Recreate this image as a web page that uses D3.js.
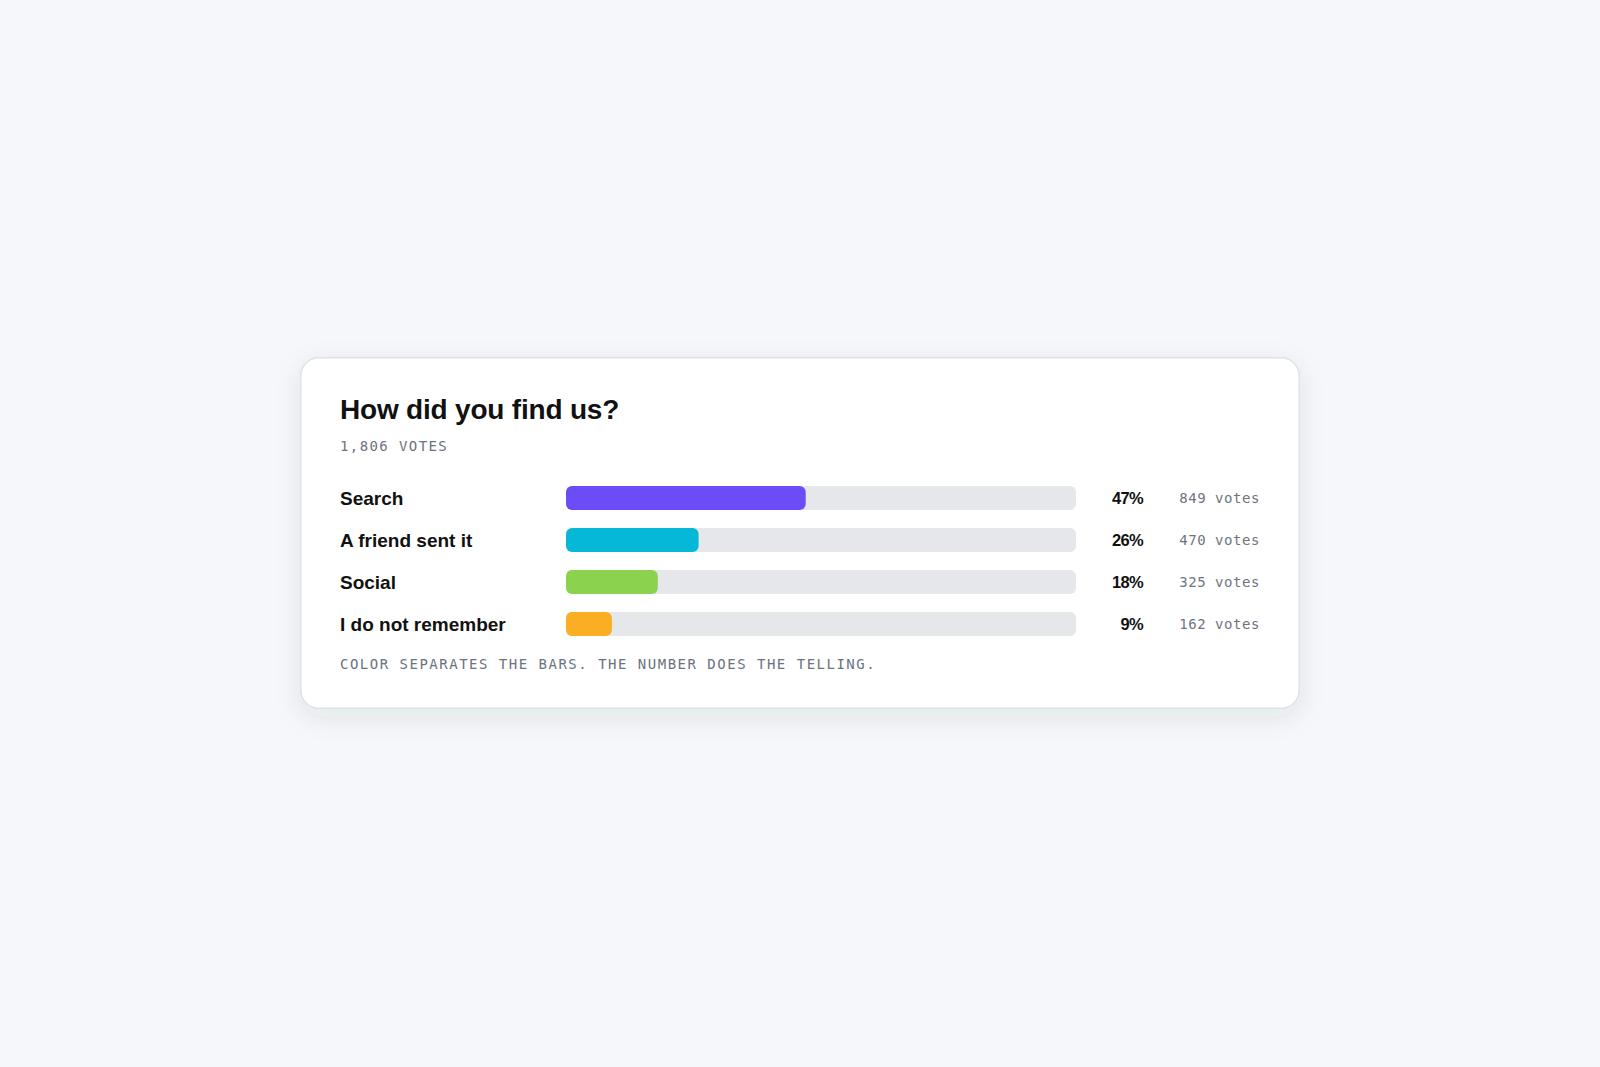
<!DOCTYPE html>
<html>
<head>
<meta charset="utf-8">
<script src="https://cdn.jsdelivr.net/npm/d3@7"></script>
<style>
  html, body { margin: 0; padding: 0; background: #f6f7fa; }
  svg { display: block; }
</style>
</head>
<body>
<svg id="chart"></svg>
<script>
var categories = ["Search", "A friend sent it", "Social", "I do not remember"];
var votes = [849, 470, 325, 162];
var percents = [47, 26, 18, 9];
var colors = ["#6b4cf7", "#06b8d7", "#8bd34f", "#fbae24"];
var totalVotes = 1806;
var title = "How did you find us?";
var note = "Color separates the bars. The number does the telling.";

var width = 1600;
var height = 1067;
var svg = d3.select("#chart")
    .attr("width", width)
    .attr("height", height);

var defs = svg.append("defs");
var shadow = defs.append("filter")
    .attr("id", "shadow")
    .attr("x", "-10%").attr("y", "-20%")
    .attr("width", "120%").attr("height", "150%");
shadow.append("feDropShadow")
    .attr("dx", 0).attr("dy", 8)
    .attr("stdDeviation", 13)
    .attr("flood-color", "#1f2937")
    .attr("flood-opacity", 0.09);

// card
var card = {x: 300, y: 357, w: 1000, h: 352};
svg.append("rect")
    .attr("x", card.x + 0.75).attr("y", card.y + 0.75)
    .attr("width", card.w - 1.5).attr("height", card.h - 1.5)
    .attr("rx", 18)
    .attr("fill", "#ffffff")
    .attr("stroke", "#dfe1e6")
    .attr("stroke-width", 1.6)
    .attr("filter", "url(#shadow)");

var left = card.x + 40;
var right = card.x + card.w - 40;
var sans = "'Liberation Sans', Arial, Helvetica, sans-serif";
var mono = "'DejaVu Sans Mono', monospace";

svg.append("text")
    .attr("x", left).attr("y", 419)
    .style("font-family", sans)
    .style("font-weight", "bold")
    .style("font-size", "28px")
    .style("letter-spacing", "-0.2px")
    .attr("fill", "#111111")
    .text(title);

svg.append("text")
    .attr("x", left).attr("y", 451)
    .style("font-family", mono)
    .style("font-size", "14px")
    .style("letter-spacing", "1.4px")
    .attr("fill", "#6b7280")
    .text(d3.format(",")(totalVotes) + " VOTES");

// scales
var x = d3.scaleLinear()
    .domain([0, 100])
    .range([566, 1076]);
var y = d3.scaleBand()
    .domain(categories)
    .range([477, 477 + 42 * categories.length]);

var barH = 24;
var rows = svg.append("g").selectAll("g")
    .data(categories).enter()
    .append("g");

rows.append("text")
    .attr("x", left)
    .attr("y", function (d) { return y(d) + y.bandwidth() / 2 + 7; })
    .style("font-family", sans)
    .style("font-weight", "bold")
    .style("font-size", "19px")
    .attr("fill", "#111111")
    .text(function (d) { return d; });

rows.append("rect")
    .attr("x", x(0))
    .attr("y", function (d) { return y(d) + y.bandwidth() / 2 - barH / 2; })
    .attr("width", x(100) - x(0))
    .attr("height", barH)
    .attr("rx", 6)
    .attr("fill", "#e5e7eb");

rows.append("rect")
    .attr("x", x(0))
    .attr("y", function (d) { return y(d) + y.bandwidth() / 2 - barH / 2; })
    .attr("width", function (d, i) { return x(percents[i]) - x(0); })
    .attr("height", barH)
    .attr("rx", 6)
    .attr("fill", function (d, i) { return colors[i]; });

rows.append("text")
    .attr("x", 1143)
    .attr("y", function (d) { return y(d) + y.bandwidth() / 2 + 6; })
    .attr("text-anchor", "end")
    .style("font-family", sans)
    .style("font-weight", "bold")
    .style("font-size", "16.5px")
    .style("letter-spacing", "-0.7px")
    .attr("fill", "#111111")
    .text(function (d, i) { return percents[i] + "%"; });

rows.append("text")
    .attr("x", right)
    .attr("y", function (d) { return y(d) + y.bandwidth() / 2 + 5; })
    .attr("text-anchor", "end")
    .style("font-family", mono)
    .style("font-size", "14px")
    .style("letter-spacing", "0.55px")
    .attr("fill", "#6f7480")
    .text(function (d, i) { return votes[i] + " votes"; });

svg.append("text")
    .attr("x", left).attr("y", 669)
    .style("font-family", mono)
    .style("font-size", "14px")
    .style("letter-spacing", "1.5px")
    .attr("fill", "#6b7280")
    .text(note.toUpperCase());
</script>
</body>
</html>
